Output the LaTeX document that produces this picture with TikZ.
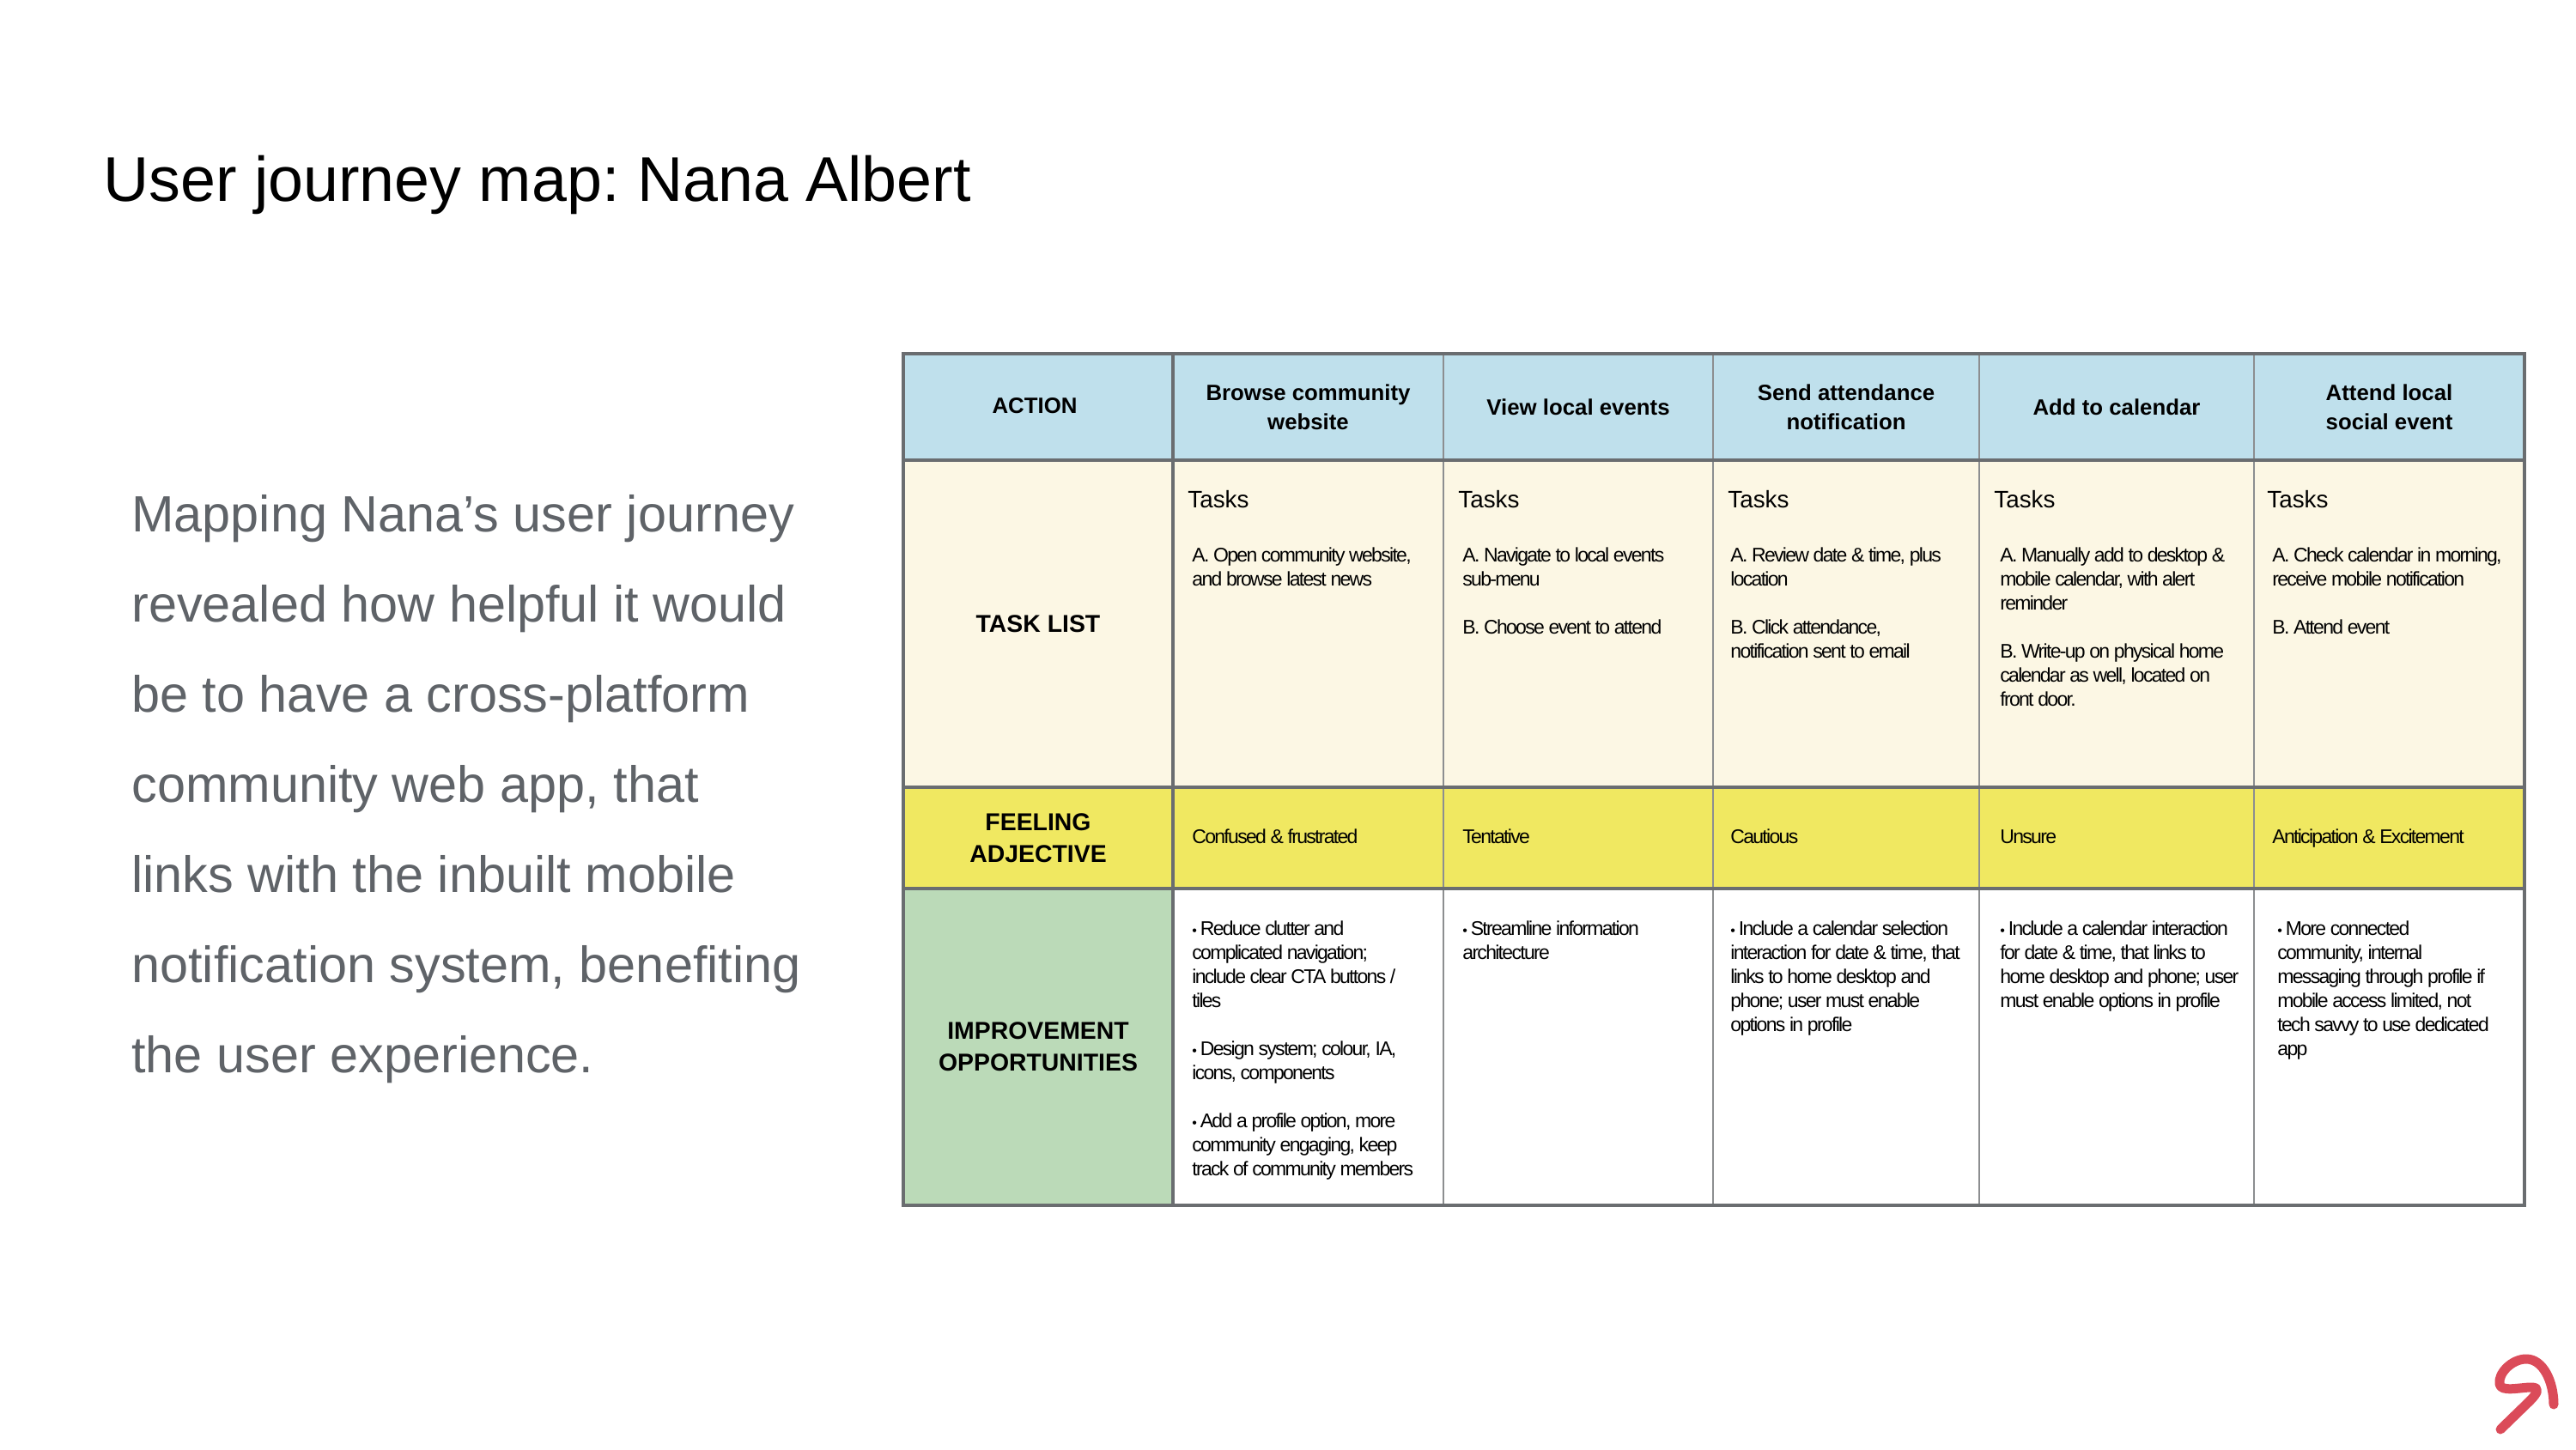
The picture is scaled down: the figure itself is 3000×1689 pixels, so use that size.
\documentclass[tikz,border=0pt]{standalone}
\usepackage{fontspec}
\usetikzlibrary{positioning}
\setmainfont{Liberation Sans}
\newfontfamily\tightfont[LetterSpace=-7.4]{Liberation Sans}
\newcommand{\bulletmark}{{\fontsize{8}{8}\selectfont •}\,}
\definecolor{headblue}{HTML}{BFE0EC}
\definecolor{taskcream}{HTML}{FCF7E4}
\definecolor{feelyellow}{HTML}{F0E861}
\definecolor{improvegreen}{HTML}{BBDAB8}
\definecolor{gridgray}{HTML}{6A6D70}
\definecolor{colgray}{HTML}{8C8E90}
\definecolor{bodygray}{HTML}{5F6368}
\definecolor{logored}{HTML}{DB4B59}

\begin{document}
\frenchspacing
\begin{tikzpicture}[
    x=0.5pt, y=0.5pt,
    title/.style={anchor=west, inner sep=0pt, font=\fontsize{36.8}{44}\selectfont, text=black},
    intro/.style={anchor=north west, inner sep=0pt, align=left, font=\fontsize{29.7}{52.5}\selectfont, text=bodygray},
    cell/.style={rectangle, inner sep=0pt, outer sep=0pt, minimum height=#1, align=center},
    head/.style={cell=62pt, fill=headblue, font=\bfseries\fontsize{12.9}{17}\selectfont},
    tasks/.style={cell=190.5pt, fill=taskcream},
    feel/.style={cell=59pt, fill=feelyellow},
    improve/.style={cell=184.5pt, fill=white},
    rowname/.style={font=\bfseries\fontsize{14.2}{18.5}\selectfont},
    tasktitle/.style={inner sep=0pt, font=\fontsize{13.9}{16}\selectfont},
    small/.style={inner sep=0pt, align=left, font=\tightfont\fontsize{11.5}{14}\selectfont},
    mood/.style={small, text height=8.5pt, text depth=2.5pt},
    rowline/.style={draw=gridgray, line width=1.8pt},
    colline/.style={draw=colgray, line width=1pt}
]
\useasboundingbox (0,0) rectangle (3000,-1689);

% Title and intro
\node[title] (heading) at (120,-215) {User journey map: Nana Albert};
\node[intro] (summary) at (153,-576) {Mapping Nana’s user journey\\
    revealed how helpful it would\\
    be to have a cross-platform\\
    community web app, that\\
    links with the inbuilt mobile\\
    notification system, benefiting\\
    the user experience.};

% Header row
\node[head, minimum width=157pt, anchor=north west] (action) at (1052,-412) {\raisebox{1.5pt}{ACTION\hspace{4pt}}};
\node[head, minimum width=157.5pt, right=0pt of action] (browse) {Browse community\\website};
\node[head, minimum width=157pt, right=0pt of browse] (view) {View local events};
\node[head, minimum width=155pt, right=0pt of view] (send) {Send attendance\\notification};
\node[head, minimum width=160pt, right=0pt of send] (add) {Add to calendar};
\node[head, minimum width=157.5pt, right=0pt of add] (attend) {Attend local\\social event};

% Task list row
\node[tasks, rowname, minimum width=157pt, below=0pt of action] (tasklist) {TASK LIST};
\node[tasks, minimum width=157.5pt, below=0pt of browse] (task_browse) {};
\node[tasks, minimum width=157pt, below=0pt of view] (task_view) {};
\node[tasks, minimum width=155pt, below=0pt of send] (task_send) {};
\node[tasks, minimum width=160pt, below=0pt of add] (task_add) {};
\node[tasks, minimum width=157.5pt, below=0pt of attend] (task_attend) {};

% Feeling row
\node[feel, rowname, minimum width=157pt, below=0pt of tasklist] (feeling) {FEELING\\ADJECTIVE};
\node[feel, minimum width=157.5pt, below=0pt of task_browse] (feel_browse) {};
\node[feel, minimum width=157pt, below=0pt of task_view] (feel_view) {};
\node[feel, minimum width=155pt, below=0pt of task_send] (feel_send) {};
\node[feel, minimum width=160pt, below=0pt of task_add] (feel_add) {};
\node[feel, minimum width=157.5pt, below=0pt of task_attend] (feel_attend) {};

% Improvement row
\node[improve, rowname, fill=improvegreen, minimum width=157pt, below=0pt of feeling] (opportunity) {IMPROVEMENT\\OPPORTUNITIES};
\node[improve, minimum width=157.5pt, below=0pt of feel_browse] (imp_browse) {};
\node[improve, minimum width=157pt, below=0pt of feel_view] (imp_view) {};
\node[improve, minimum width=155pt, below=0pt of feel_send] (imp_send) {};
\node[improve, minimum width=160pt, below=0pt of feel_add] (imp_add) {};
\node[improve, minimum width=157.5pt, below=0pt of feel_attend] (imp_attend) {};

% Tasks text
\node[tasktitle, below right=17.5pt and 8.5pt of task_browse.north west] (lbl_browse) {Tasks};
\node[tasktitle, below right=17.5pt and 8.5pt of task_view.north west] (lbl_view) {Tasks};
\node[tasktitle, below right=17.5pt and 8.5pt of task_send.north west] (lbl_send) {Tasks};
\node[tasktitle, below right=17.5pt and 8.5pt of task_add.north west] (lbl_add) {Tasks};
\node[tasktitle, below right=17.5pt and 7.5pt of task_attend.north west] (lbl_attend) {Tasks};

\node[small, below right=50.5pt and 11pt of task_browse.north west] (list_browse) {A. Open community website,\\and browse latest news};
\node[small, below right=50.5pt and 11pt of task_view.north west] (list_view) {A. Navigate to local events\\sub-menu\\[14pt]B. Choose event to attend};
\node[small, below right=50.5pt and 10pt of task_send.north west] (list_send) {A. Review date \& time, plus\\location\\[14pt]B. Click attendance,\\notification sent to email};
\node[small, below right=50.5pt and 12pt of task_add.north west] (list_add) {A. Manually add to desktop \&\\mobile calendar, with alert\\reminder\\[14pt]B. Write-up on physical home\\calendar as well, located on\\front door.};
\node[small, below right=50.5pt and 10.5pt of task_attend.north west] (list_attend) {A. Check calendar in morning,\\receive mobile notification\\[14pt]B. Attend event};

% Feeling text
\node[mood, right=11pt of feel_browse.west] (mood_browse) {Confused \& frustrated};
\node[mood, right=11pt of feel_view.west] (mood_view) {Tentative};
\node[mood, right=10pt of feel_send.west] (mood_send) {Cautious};
\node[mood, right=12pt of feel_add.west] (mood_add) {Unsure};
\node[mood, right=10.5pt of feel_attend.west] (mood_attend) {Anticipation \& Excitement};

% Improvement text
\node[small, below right=18.5pt and 11pt of imp_browse.north west] (idea_browse) {\bulletmark Reduce clutter and\\complicated navigation;\\include clear CTA buttons /\\tiles\\[14pt]\bulletmark Design system; colour, IA,\\icons, components\\[14pt]\bulletmark Add a profile option, more\\community engaging, keep\\track of community members};
\node[small, below right=18.5pt and 11pt of imp_view.north west] (idea_view) {\bulletmark Streamline information\\architecture};
\node[small, below right=18.5pt and 10pt of imp_send.north west] (idea_send) {\bulletmark Include a calendar selection\\interaction for date \& time, that\\links to home desktop and\\phone; user must enable\\options in profile};
\node[small, below right=18.5pt and 12pt of imp_add.north west] (idea_add) {\bulletmark Include a calendar interaction\\for date \& time, that links to\\home desktop and phone; user\\must enable options in profile};
\node[small, below right=18.5pt and 13.5pt of imp_attend.north west] (idea_attend) {\bulletmark More connected\\community, internal\\messaging through profile if\\mobile access limited, not\\tech savvy to use dedicated\\app};

% Grid lines
\draw[colline] (browse.north east) -- (imp_browse.south east);
\draw[colline] (view.north east) -- (imp_view.south east);
\draw[colline] (send.north east) -- (imp_send.south east);
\draw[colline] (add.north east) -- (imp_add.south east);
\draw[rowline] (action.north east) -- (opportunity.south east);
\draw[rowline] (action.south west) -- (attend.south east);
\draw[rowline] (tasklist.south west) -- (task_attend.south east);
\draw[rowline] (feeling.south west) -- (feel_attend.south east);
\draw[rowline] (action.north west) rectangle (imp_attend.south east);

% Logo
\draw[logored, line width=5.5pt, line cap=round, line join=round] (2912,-1665) -- (2946,-1632) .. controls (2956,-1622) and (2958,-1616) .. (2948,-1616) .. controls (2935,-1616) and (2912,-1622) .. (2911,-1612) .. controls (2909,-1600) and (2925,-1583) .. (2942,-1583) .. controls (2962,-1583) and (2974,-1610) .. (2974,-1636);
\end{tikzpicture}
\end{document}
